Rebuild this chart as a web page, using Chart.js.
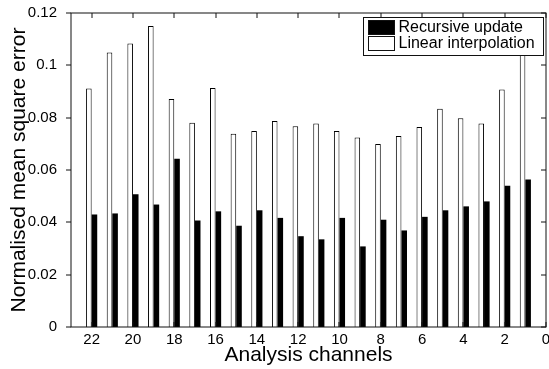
<!DOCTYPE html>
<html>
<head>
<meta charset="utf-8">
<script src="https://cdn.jsdelivr.net/npm/chart.js@4/dist/chart.umd.min.js"></script>
<style>
  html, body { margin: 0; padding: 0; background: #fff; }
  #wrap { width: 549px; height: 369px; }
</style>
</head>
<body>
<div id="wrap"><canvas id="nmse" width="549" height="369"></canvas></div>
<script>
// channel numbers, plotted on a reversed axis (22 on the left)
const channels = [22, 21, 20, 19, 18, 17, 16, 15, 14, 13, 12, 11, 10, 9, 8, 7, 6, 5, 4, 3, 2, 1];

const recursiveUpdate = [0.0430, 0.0434, 0.0507, 0.0468, 0.0643, 0.0407, 0.0442, 0.0387, 0.0446, 0.0417, 0.0347,
  0.0335, 0.0417, 0.0308, 0.0410, 0.0369, 0.0421, 0.0446, 0.0461, 0.0480, 0.0540, 0.0564];

const linearInterp = [0.0911, 0.1049, 0.1083, 0.1150, 0.0871, 0.0781, 0.0913, 0.0739, 0.0749, 0.0787, 0.0767,
  0.0778, 0.0749, 0.0724, 0.0699, 0.0730, 0.0764, 0.0834, 0.0798, 0.0778, 0.0908, 0.1120];

const xTicks = [0, 2, 4, 6, 8, 10, 12, 14, 16, 18, 20, 22];
const yTicks = [0, 0.02, 0.04, 0.06, 0.08, 0.1, 0.12];

const FONT = "'Liberation Sans', Arial, Helvetica, sans-serif";
const TICK_LEN = 5;

// box, matlab style ticks and the boxed legend
const framePlugin = {
  id: "frame",
  afterDraw(chart) {
    const ctx = chart.ctx;
    const a = chart.chartArea;
    const xs = chart.scales.x;
    const ys = chart.scales.y;
    const L = Math.round(a.left);
    const R = Math.round(a.right);
    const T = Math.round(a.top);
    const B = Math.round(a.bottom);

    ctx.save();
    ctx.strokeStyle = "#111";
    ctx.lineWidth = 1;
    ctx.strokeRect(L, T, R - L, B - T);
    ctx.beginPath();
    xs.ticks.forEach((t) => {
      const px = Math.round(xs.getPixelForValue(t.value));
      ctx.moveTo(px, B); ctx.lineTo(px, B - TICK_LEN);
      ctx.moveTo(px, T); ctx.lineTo(px, T + TICK_LEN);
    });
    ys.ticks.forEach((t) => {
      const py = Math.round(ys.getPixelForValue(t.value));
      ctx.moveTo(L, py); ctx.lineTo(L - TICK_LEN, py);
      ctx.moveTo(R, py); ctx.lineTo(R - TICK_LEN, py);
    });
    ctx.stroke();

    // legend
    const items = chart.data.datasets.slice().reverse();
    const lw = 180, lh = 38;
    const lx = Math.round(a.right - 3 - lw) + 0.5;
    const ly = Math.round(a.top + 4) + 0.5;
    ctx.fillStyle = "#fff";
    ctx.fillRect(lx, ly, lw, lh);
    ctx.strokeRect(lx, ly, lw, lh);
    ctx.font = "16px " + FONT;
    ctx.textBaseline = "middle";
    items.forEach((ds, i) => {
      const sy = ly + 3 + i * 16;
      ctx.fillStyle = ds.backgroundColor;
      ctx.fillRect(lx + 5, sy, 26, 14);
      ctx.strokeRect(lx + 5, sy, 26, 14);
      ctx.fillStyle = "#000";
      ctx.fillText(ds.label, lx + 35, sy + 7.5);
    });
    ctx.restore();
  },
};

new Chart(document.getElementById("nmse"), {
  type: "bar",
  data: {
    datasets: [
      {
        label: "Linear interpolation",
        data: channels.map((c, i) => ({ x: c, y: linearInterp[i] })),
        backgroundColor: "#fff",
        borderColor: "#000",
        borderWidth: 1,
      },
      {
        label: "Recursive update",
        data: channels.map((c, i) => ({ x: c, y: recursiveUpdate[i] })),
        backgroundColor: "#000",
        borderColor: "#000",
        borderWidth: 0,
      },
    ],
  },
  options: {
    responsive: false,
    animation: false,
    categoryPercentage: 0.54,
    barPercentage: 1,
    layout: { padding: { left: 0, top: 13, right: 3, bottom: 0 } },
    plugins: { legend: { display: false }, tooltip: { enabled: false } },
    scales: {
      x: {
        type: "linear",
        reverse: true,
        min: 0,
        max: 23,
        offset: false,
        grid: { display: false },
        border: { display: false },
        afterBuildTicks: (s) => { s.ticks = xTicks.map((v) => ({ value: v })); },
        afterFit: (s) => { s.height = 42; s.paddingLeft = 0; s.paddingRight = 0; },
        ticks: {
          color: "#000",
          font: { family: FONT, size: 15 },
          padding: -4,
          maxRotation: 0,
          autoSkip: false,
          callback: (v) => String(v),
        },
        title: {
          display: true,
          text: "Analysis channels",
          color: "#000",
          font: { family: FONT, size: 21 },
          padding: { top: 0, bottom: 1 },
        },
      },
      y: {
        min: 0,
        max: 0.12,
        grid: { display: false },
        border: { display: false },
        afterBuildTicks: (s) => { s.ticks = yTicks.map((v) => ({ value: v })); },
        afterFit: (s) => { s.width = 71; s.paddingTop = 0; s.paddingBottom = 0; },
        ticks: {
          color: "#000",
          font: { family: FONT, size: 15 },
          padding: 6,
          callback: (v) => String(+v.toFixed(2)),
        },
        title: {
          display: true,
          text: "Normalised mean square error",
          color: "#000",
          font: { family: FONT, size: 21 },
          padding: { top: 7, bottom: 0 },
        },
      },
    },
  },
  plugins: [framePlugin],
});
</script>
</body>
</html>
